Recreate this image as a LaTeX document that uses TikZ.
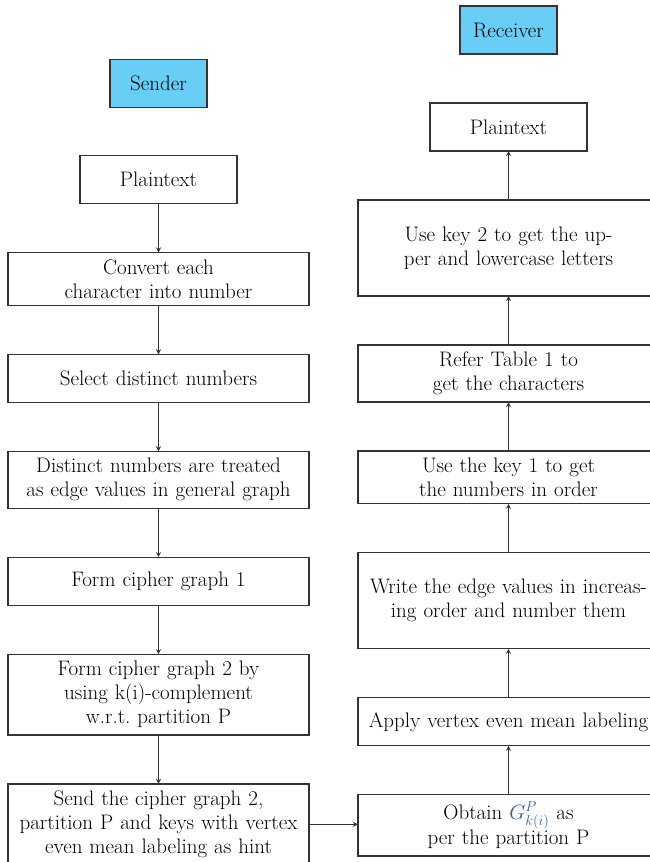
\documentclass[tikz,border=0pt]{standalone}
\usepackage{amsmath, amssymb}
\usepackage{fontspec}
\usepackage{xcolor}
\usepackage{tikz}
\usetikzlibrary{shapes, arrows, positioning, calc}

\definecolor{headblue}{RGB}{104,206,245}
\definecolor{gblue}{RGB}{40,95,175}

\begin{document}
\begin{tikzpicture}[
            x=1pt, y=1pt,
            node distance=49pt,
            font=\fontsize{21}{24}\selectfont,
            frame/.style={rectangle, draw=black!80, line width=1.3pt, outer sep=0pt, minimum height=48pt},
            box/.style={frame, minimum width=301pt, text width=297pt, align=center, inner xsep=2pt, inner ysep=7pt},
            head/.style={frame, fill=headblue, minimum width=97pt},
            plain/.style={frame, minimum width=157pt},
            flow/.style={->, >=stealth, line width=1.3pt, draw=black!80}
        ]
        \useasboundingbox (0,0) rectangle (650,-862);

        % Sender side
        \node[head] (sender) at (158.5,-83.5) {Sender};
        \node[plain, below=48pt of sender] (plainA) {Plaintext};
        \node[box, below=of plainA] (convert) {Convert each\\character into number};
        \node[box, below=of convert] (select) {Select distinct numbers};
        \node[box, below=of select] (distinct) {Distinct numbers are treated\\as edge values in general graph};
        \node[box, below=of distinct] (formOne) {Form cipher graph 1};
        \node[box, below=of formOne] (formTwo) {Form cipher graph 2 by\\using k(i)-complement\\w.r.t.\ partition P};
        \node[box, below=of formTwo] (send) {Send the cipher graph 2,\\partition P and keys with vertex\\even mean labeling as hint};

        % Receiver side
        \node[head] (receiver) at (508.5,-30) {Receiver};
        \node[plain, below=of receiver] (plainB) {Plaintext};
        \node[box, minimum height=96pt, below=of plainB] (keyTwo) {Use key 2 to get the up-\\per and lowercase letters};
        \node[box, below=of keyTwo] (referTable) {Refer Table 1 to\\get the characters};
        \node[box, below=of referTable] (keyOne) {Use the key 1 to get\\the numbers in order};
        \node[box, minimum height=96pt, below=of keyOne] (writeEdges) {Write the edge values in increas-\\ing order and number them};
        \node[box, below=of writeEdges] (applyVem) {Apply vertex even mean labeling};
        \node[box, below=of applyVem] (obtain) {Obtain $\color{gblue}G^{P}_{k(i)}$ as\\per the partition P};

        % Sender flow
        \draw[flow] (plainA) -- (convert);
        \draw[flow] (convert) -- (select);
        \draw[flow] (select) -- (distinct);
        \draw[flow] (distinct) -- (formOne);
        \draw[flow] (formOne) -- (formTwo);
        \draw[flow] (formTwo) -- (send);

        % Hand over
        \draw[flow] (send.east) -- (send.east -| obtain.west);

        % Receiver flow
        \draw[flow] (obtain) -- (applyVem);
        \draw[flow] (applyVem) -- (writeEdges);
        \draw[flow] (writeEdges) -- (keyOne);
        \draw[flow] (keyOne) -- (referTable);
        \draw[flow] (referTable) -- (keyTwo);
        \draw[flow] (keyTwo) -- (plainB);

    \end{tikzpicture}
\end{document}
